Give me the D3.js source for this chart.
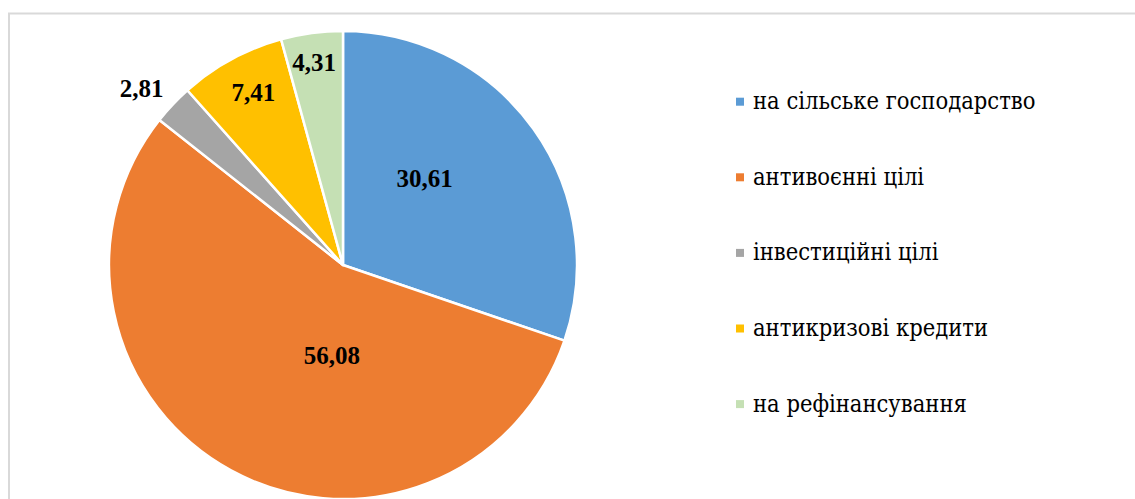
<!DOCTYPE html>
<html>
<head>
<meta charset="utf-8">
<script src="https://cdn.jsdelivr.net/npm/d3@7"></script>
<style>
  body { margin: 0; background: #fff; }
  svg { display: block; }
  text { font-family: "Liberation Serif", "Times New Roman", serif; }
  text.leg { font-family: "DejaVu Serif Condensed", "DejaVu Serif", serif; }
</style>
</head>
<body>
<svg width="1135" height="499"></svg>
<script>
// data
const categories = ["на сільське господарство", "антивоєнні цілі", "інвестиційні цілі", "антикризові кредити", "на рефінансування"];
const values = [30.61, 56.08, 2.81, 7.41, 4.31];
const valueLabels = ["30,61", "56,08", "2,81", "7,41", "4,31"];
const colors = ["#5B9BD5", "#ED7D31", "#A5A5A5", "#FFC000", "#C5E0B4"];

// layout
const cx = 343, cy = 265, radius = 234;
// label placement as [angle in degrees clockwise from top, distance from centre]
const labelPlacement = [[43.3, 119], [187, 91], [311.3, 268], [332.6, 195], [351.9, 205]];

const svg = d3.select("svg");

// chart frame (top and left edge visible)
svg.append("path")
  .attr("d", "M9,499 L9,13.5 L1135,13.5")
  .attr("fill", "none")
  .attr("stroke", "#d9d9d9")
  .attr("stroke-width", 2);

var pie = d3.pie().sort(null).value(d => d);
var arc = d3.arc().innerRadius(0).outerRadius(radius);

var chart = svg.append("g")
  .attr("transform", `translate(${cx}, ${cy})`);

chart.selectAll("path.slice")
  .data(pie(values))
  .enter()
  .append("path")
    .attr("class", "slice")
    .attr("d", arc)
    .attr("fill", (d, i) => colors[i])
    .attr("stroke", "#fff")
    .attr("stroke-width", 2.5)
    .attr("stroke-linejoin", "round");

// data labels
chart.selectAll("text.lbl")
  .data(valueLabels)
  .enter()
  .append("text")
    .attr("class", "lbl")
    .attr("x", (d, i) => labelPlacement[i][1] * Math.sin(labelPlacement[i][0] * Math.PI / 180))
    .attr("y", (d, i) => -labelPlacement[i][1] * Math.cos(labelPlacement[i][0] * Math.PI / 180))
    .attr("dy", "0.35em")
    .attr("text-anchor", "middle")
    .attr("font-size", 25)
    .attr("font-weight", "bold")
    .attr("fill", "#000")
    .text(d => d);

// legend
var legendY = d3.scalePoint()
  .domain(categories)
  .range([101.7, 404.1]);

var legend = svg.append("g");
var items = legend.selectAll("g")
  .data(categories)
  .enter()
  .append("g")
    .attr("transform", d => `translate(736, ${legendY(d)})`);

items.append("rect")
  .attr("x", 0)
  .attr("y", -4)
  .attr("width", 8)
  .attr("height", 8)
  .attr("fill", (d, i) => colors[i]);

items.append("text")
  .attr("class", "leg")
  .attr("x", 17)
  .attr("y", 0)
  .attr("dy", "0.32em")
  .attr("font-size", 23.5)
  .attr("fill", "#000")
  .text(d => d);
</script>
</body>
</html>
